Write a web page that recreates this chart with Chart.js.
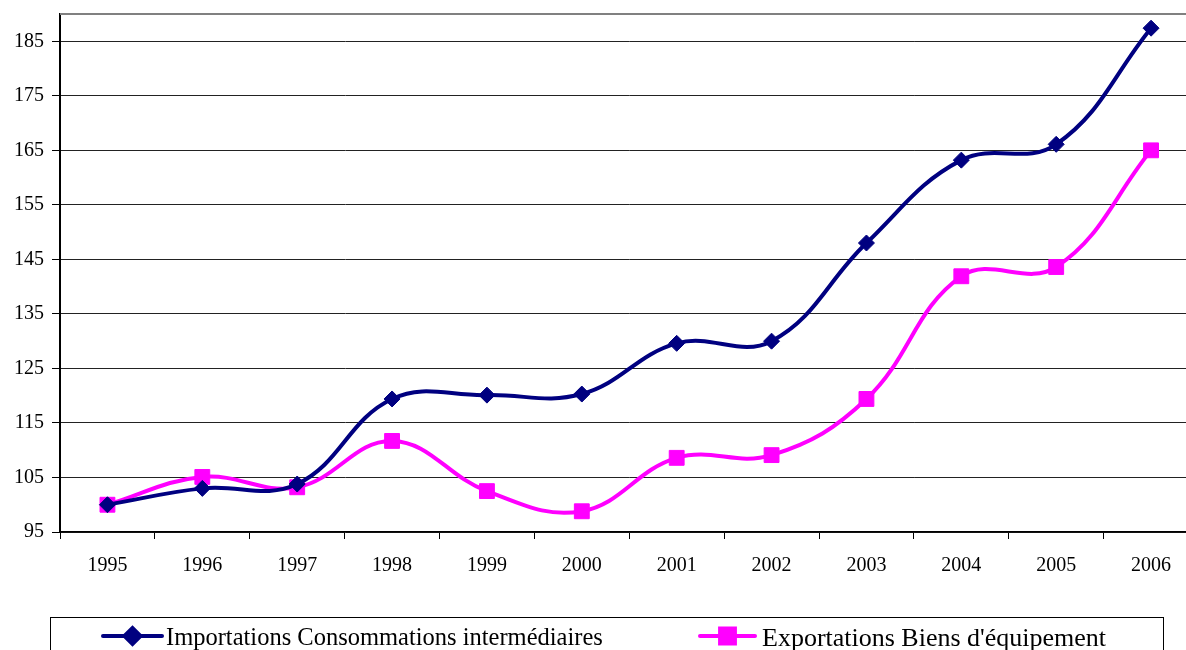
<!DOCTYPE html>
<html>
<head>
<meta charset="utf-8">
<script src="https://cdn.jsdelivr.net/npm/chart.js@4/dist/chart.umd.min.js"></script>
<style>
  html, body { margin: 0; padding: 0; background: #fff; overflow: hidden; }
  #wrap { width: 1210px; height: 650px; position: relative; }
  #c { display: block; width: 1210px; height: 650px; }
</style>
</head>
<body>
<div id="wrap"><canvas id="c" width="1210" height="650" style="width:1210px;height:650px"></canvas></div>
<script>
// Years on the horizontal axis
const years = ['1995','1996','1997','1998','1999','2000','2001','2002','2003','2004','2005','2006'];
// Index values (base 100 in 1995)
const importationsCI = [100, 103.0, 103.8, 119.4, 120.1, 120.3, 129.6, 130.0, 148.0, 163.2, 166.1, 187.4];
const exportationsBE = [100, 105.1, 103.2, 111.7, 102.5, 98.8, 108.6, 109.1, 119.4, 141.9, 143.6, 165.0];
// Labelled values on the vertical axis
const yTicks = [95, 105, 115, 125, 135, 145, 155, 165, 175, 185];

const serif = '"Liberation Serif", "Times New Roman", serif';

// Boxed legend under the plot, each entry a line segment with its marker
const boxedLegend = {
  id: 'boxedLegend',
  afterDraw(chart) {
    const ctx = chart.ctx;
    ctx.save();
    ctx.strokeStyle = '#000';
    ctx.lineWidth = 1;
    ctx.strokeRect(50.5, 617.5, 1113, 60);
    const entries = [
      { ds: chart.data.datasets[0], x0: 103, x1: 162, tx: 166, size: 24.5 },
      { ds: chart.data.datasets[1], x0: 700, x1: 755, tx: 762, size: 26 }
    ];
    const y = 636;
    entries.forEach(e => {
      ctx.strokeStyle = e.ds.borderColor;
      ctx.lineWidth = 4;
      ctx.lineCap = 'round';
      ctx.beginPath();
      ctx.moveTo(e.x0, y);
      ctx.lineTo(e.x1, y);
      ctx.stroke();
      ctx.fillStyle = e.ds.pointBackgroundColor;
      ctx.strokeStyle = e.ds.pointBorderColor;
      Chart.helpers.drawPoint(ctx, {
        pointStyle: e.ds.pointStyle,
        radius: e.ds.pointRadius,
        rotation: 0,
        borderWidth: 1
      }, (e.x0 + e.x1) / 2, y);
      ctx.fillStyle = '#000';
      ctx.font = e.size + 'px ' + serif;
      ctx.textBaseline = 'middle';
      ctx.textAlign = 'left';
      ctx.fillText(e.ds.label, e.tx, y + 3);
    });
    ctx.restore();
  }
};

// Grey frame line along the top of the plot area
const topFrame = {
  id: 'topFrame',
  afterDraw(chart) {
    const { ctx, chartArea } = chart;
    ctx.save();
    ctx.strokeStyle = '#808080';
    ctx.lineWidth = 2;
    ctx.beginPath();
    ctx.moveTo(chartArea.left, chartArea.top);
    ctx.lineTo(chartArea.right, chartArea.top);
    ctx.stroke();
    ctx.restore();
  }
};

new Chart(document.getElementById('c'), {
  type: 'line',
  data: {
    labels: years,
    datasets: [
      {
        label: 'Importations Consommations intermédiaires',
        data: importationsCI,
        borderColor: '#000080',
        backgroundColor: '#000080',
        pointBackgroundColor: '#000080',
        pointBorderColor: '#000080',
        borderWidth: 4,
        pointStyle: 'rectRot',
        pointRadius: 8,
        pointBorderWidth: 1,
        tension: 0.4,
        fill: false
      },
      {
        label: "Exportations Biens d'équipement",
        data: exportationsBE,
        borderColor: '#FF00FF',
        backgroundColor: '#FF00FF',
        pointBackgroundColor: '#FF00FF',
        pointBorderColor: '#FF00FF',
        borderWidth: 4,
        pointStyle: 'rect',
        pointRadius: 10.5,
        pointBorderWidth: 1,
        tension: 0.4,
        fill: false
      }
    ]
  },
  options: {
    responsive: false,
    animation: false,
    devicePixelRatio: 1,
    layout: { padding: { top: 14, right: 0, bottom: 68, left: 0 } },
    plugins: {
      legend: { display: false },
      tooltip: { enabled: false }
    },
    scales: {
      x: {
        offset: true,
        grid: {
          offset: true,
          drawOnChartArea: false,
          drawTicks: true,
          tickLength: 7,
          color: '#000'
        },
        border: { color: '#000', width: 1.5 },
        ticks: {
          color: '#000',
          font: { family: serif, size: 20 },
          padding: 15,
          maxRotation: 0
        },
        afterFit(scale) { scale.height = 50; }
      },
      y: {
        min: 95,
        max: 190,
        afterBuildTicks(scale) { scale.ticks = yTicks.map(v => ({ value: v })); },
        grid: {
          color: '#222',
          lineWidth: 1,
          tickLength: 8,
          tickColor: '#000'
        },
        border: { color: '#000', width: 2 },
        ticks: {
          color: '#000',
          font: { family: serif, size: 20 },
          padding: 8
        },
        afterFit(scale) {
          scale.width = 60;
          scale.paddingTop = 0;
          scale.paddingBottom = 0;
        }
      }
    }
  },
  plugins: [topFrame, boxedLegend]
});
</script>
</body>
</html>
